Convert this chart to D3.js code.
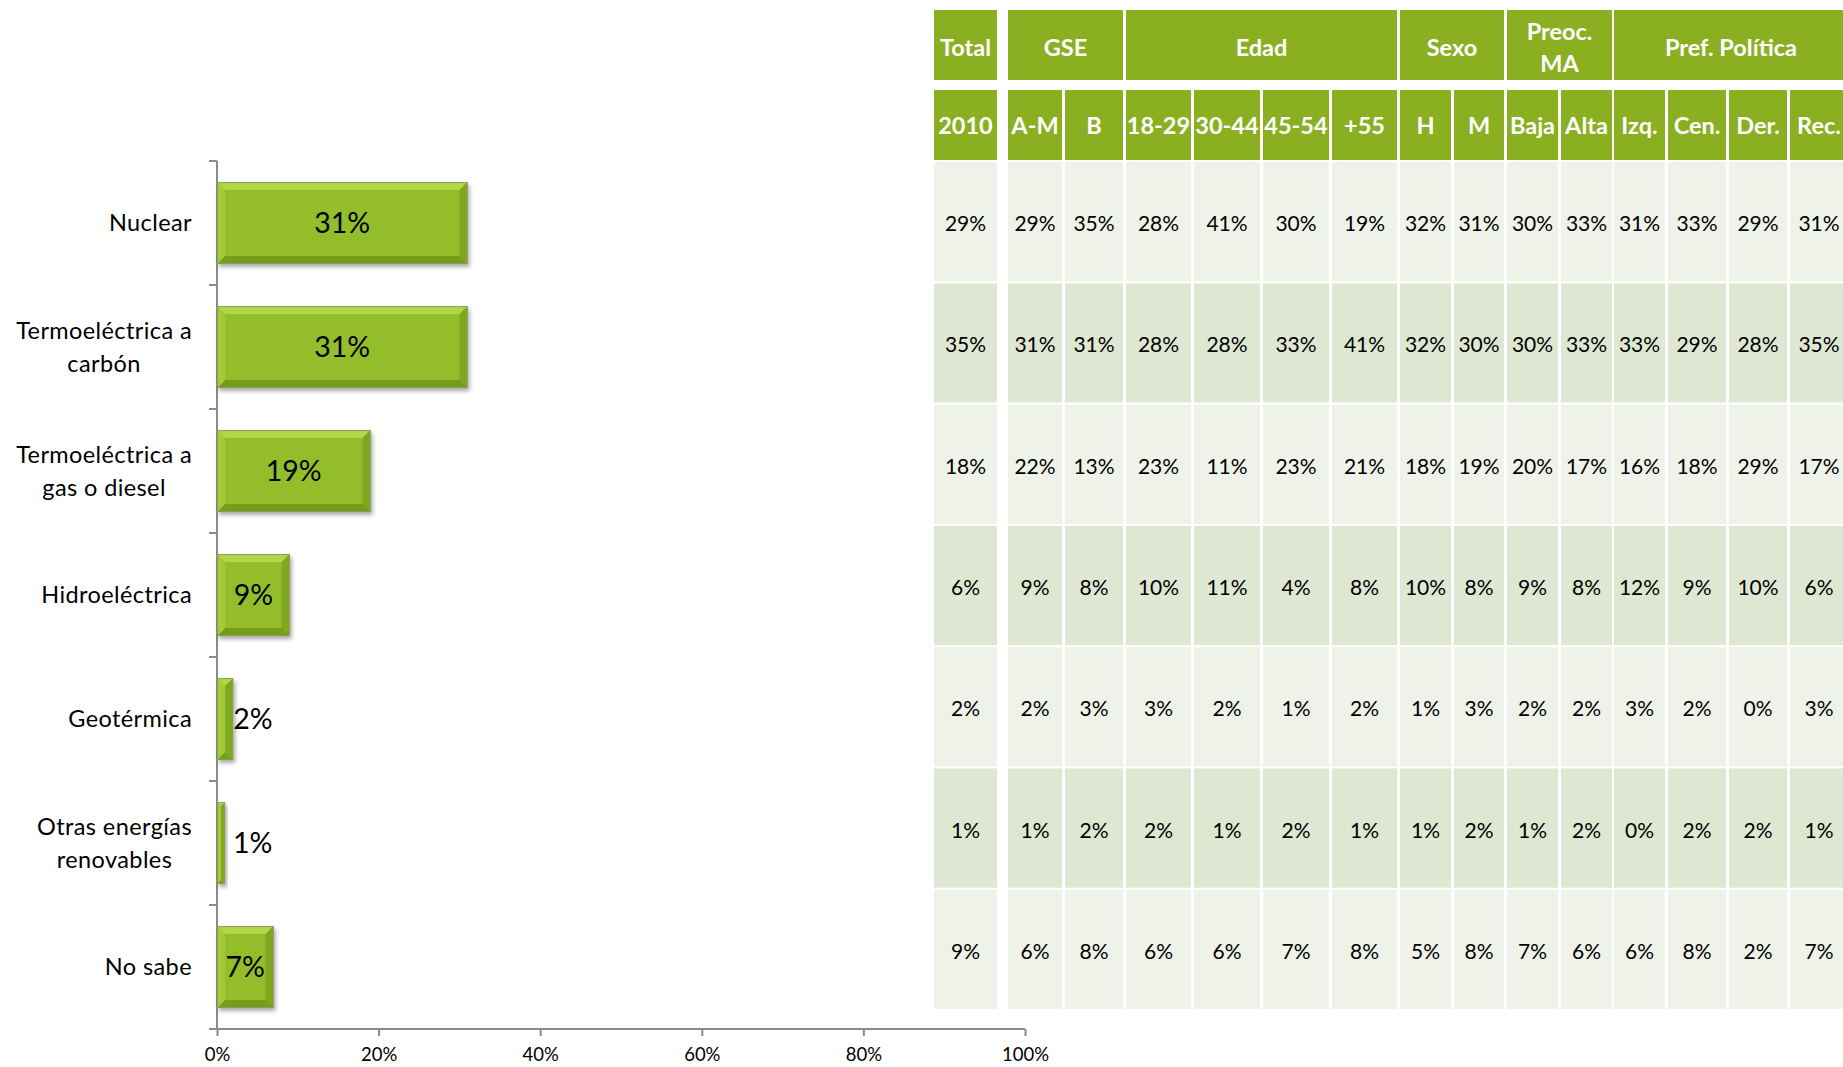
<!DOCTYPE html>
<html><head><meta charset="utf-8">
<script src="https://cdn.jsdelivr.net/npm/d3@7"></script>
<style>
body{margin:0;background:#fff}
svg{display:block}
text{font-family:Lato,'Open Sans',sans-serif}
</style>
</head><body>
<svg id="c" width="1843" height="1067"></svg>
<script>
// ---------- data ----------
const categories = ["Nuclear","Termoeléctrica a carbón","Termoeléctrica a gas o diesel","Hidroeléctrica","Geotérmica","Otras energías renovables","No sabe"];
const categoryLines = [["Nuclear"],["Termoeléctrica a","carbón"],["Termoeléctrica a","gas o diesel"],["Hidroeléctrica"],["Geotérmica"],["Otras energías","renovables"],["No sabe"]];
const values = [31,31,19,9,2,1,7];
const xTicks = [0,20,40,60,80,100];

const groupHeaders = [["Total"],["GSE"],["Edad"],["Sexo"],["Preoc.","MA"],["Pref. Política"]];
const groupSpans = [1,2,4,2,2,4];
const columns = ["2010","A-M","B","18-29","30-44","45-54","+55","H","M","Baja","Alta","Izq.","Cen.","Der.","Rec."];

const rowNuclear    = [29,29,35,28,41,30,19,32,31,30,33,31,33,29,31];
const rowCarbon     = [35,31,31,28,28,33,41,32,30,30,33,33,29,28,35];
const rowGas        = [18,22,13,23,11,23,21,18,19,20,17,16,18,29,17];
const rowHidro      = [6,9,8,10,11,4,8,10,8,9,8,12,9,10,6];
const rowGeo        = [2,2,3,3,2,1,2,1,3,2,2,3,2,0,3];
const rowOtras      = [1,1,2,2,1,2,1,1,2,1,2,0,2,2,1];
const rowNoSabe     = [9,6,8,6,6,7,8,5,8,7,6,6,8,2,7];
const tableRows = [rowNuclear,rowCarbon,rowGas,rowHidro,rowGeo,rowOtras,rowNoSabe];

// ---------- layout (not data) ----------
const colEdges = [[934,997],[1008,1062],[1065,1123],[1126,1191],[1194,1260],[1263,1329],[1332,1397],
  [1400,1451],[1454,1504],[1507,1558],[1561,1612],[1614,1665],[1668,1726],[1729,1787],[1790,1848]];
const GREEN = "#8ab022", LIGHT = "#eff2e9", DARK = "#dee7d2", AXIS = "#8a8a8a";

const svg = d3.select("#c");
const defs = svg.append("defs");
const f = defs.append("filter").attr("id","sh").attr("x","-20%").attr("y","-20%").attr("width","150%").attr("height","150%");
f.append("feDropShadow").attr("dx",2).attr("dy",3).attr("stdDeviation",2.2).attr("flood-color","#000").attr("flood-opacity",0.35);

// ---------- bar chart ----------
const x = d3.scaleLinear().domain([0,100]).range([217,1025]);
const y = d3.scaleBand().domain(categories).range([161,1029]).paddingInner(0.34).paddingOuter(0.17);
const step = y.step();

// axes
const axG = svg.append("g");
axG.append("line").attr("x1",x(0)).attr("x2",x(0)).attr("y1",y.range()[0]).attr("y2",y.range()[1]).attr("stroke",AXIS).attr("stroke-width",2);
const yTickPos = categories.map(c => y(c) - step*y.paddingInner()/2);
yTickPos.push(y.range()[1]);
axG.selectAll(".yt").data(yTickPos).join("line").attr("x1",x(0)-8).attr("x2",x(0)).attr("y1",d=>d).attr("y2",d=>d).attr("stroke",AXIS).attr("stroke-width",2);

const xAxis = d3.axisBottom(x).tickValues(xTicks).tickFormat(d=>d+"%").tickSize(7).tickSizeOuter(0);
const xg = svg.append("g").attr("transform",`translate(0,${y.range()[1]})`).call(xAxis);
xg.select(".domain").attr("stroke",AXIS).attr("stroke-width",2).attr("d",`M${x(0)-8},0H${x(100)}`);
xg.selectAll(".tick line").attr("stroke",AXIS).attr("stroke-width",2);
xg.selectAll(".tick text").attr("font-size",18.5).attr("fill","#000").attr("dy","1.2em").style("font-family","Lato,'Open Sans',sans-serif");

// category labels
const labG = svg.append("g");
categories.forEach((c,i) => {
  const lines = categoryLines[i];
  const cy = y(c) + y.bandwidth()/2;
  const g = labG.append("g");
  const lh = 33;
  const texts = lines.map((ln,j) => g.append("text").text(ln)
      .attr("font-size",23.5).attr("fill","#000").attr("letter-spacing","0.4px")
      .attr("y", cy + (j - (lines.length-1)/2)*lh).attr("dy","0.36em"));
  const maxW = d3.max(texts, t => t.node().getComputedTextLength());
  texts.forEach(t => t.attr("text-anchor","middle").attr("x", 192 - maxW/2));
});

// bars with bevel
const barG = svg.append("g");
values.forEach((v,i) => {
  const x0 = x(0), x1 = x(v), y0 = y(categories[i]), y1 = y0 + y.bandwidth();
  const w = x1 - x0;
  const b = Math.min(8, w/2);
  const g = barG.append("g");
  g.append("rect").attr("x",x0).attr("y",y0).attr("width",w).attr("height",y1-y0).attr("fill","#93bd2a").attr("filter","url(#sh)");
  const poly = (pts,fill) => g.append("polygon").attr("points",pts.map(p=>p.join(",")).join(" ")).attr("fill",fill);
  poly([[x0,y0],[x1,y0],[x1-b,y0+b],[x0+b,y0+b]],"#b2d84a");
  poly([[x0,y1],[x1,y1],[x1-b,y1-b],[x0+b,y1-b]],"#769d19");
  poly([[x0,y0],[x0+b,y0+b],[x0+b,y1-b],[x0,y1]],"#a2cb36");
  poly([[x1,y0],[x1-b,y0+b],[x1-b,y1-b],[x1,y1]],"#7fa71f");
  g.append("rect").attr("x",x0+0.5).attr("y",y0+0.5).attr("width",Math.max(0,w-1)).attr("height",y1-y0-1).attr("fill","none").attr("stroke","#8a9e60").attr("stroke-width",1);
  // label
  const t = g.append("text").text(v+"%").attr("font-size",28.5).attr("fill","#000")
    .attr("y",(y0+y1)/2).attr("dy","0.36em");
  const lw = t.node().getComputedTextLength();
  if (w >= lw*1.3) t.attr("x",(x0+x1)/2).attr("text-anchor","middle");
  else if (w >= lw) t.attr("x",x1).attr("text-anchor","end");
  else t.attr("x",Math.max(x1, x0+16)).attr("text-anchor","start");
});

// ---------- table ----------
const tG = svg.append("g");
// header row 1 (groups)
let ci = 0;
groupHeaders.forEach((h,gi) => {
  const a = colEdges[ci][0], bnd = colEdges[ci+groupSpans[gi]-1][1];
  ci += groupSpans[gi];
  tG.append("rect").attr("x",a).attr("y",10).attr("width",bnd-a).attr("height",70).attr("fill",GREEN);
  h.forEach((ln,j) => tG.append("text").text(ln).attr("x",(a+bnd)/2).attr("y",48 + (j-(h.length-1)/2)*32)
    .attr("dy","0.36em").attr("text-anchor","middle").attr("font-size",23.5).attr("font-weight","bold").attr("fill","#fff"));
});
// header row 2
columns.forEach((c,j) => {
  const [a,bnd] = colEdges[j];
  tG.append("rect").attr("x",a).attr("y",90).attr("width",bnd-a).attr("height",70).attr("fill",GREEN);
  tG.append("text").text(c).attr("x",(a+bnd)/2).attr("y",126).attr("dy","0.36em").attr("text-anchor","middle")
    .attr("font-size",23.5).attr("font-weight","bold").attr("fill","#fff");
});
// data rows
const rowY = d3.scaleBand().domain(d3.range(tableRows.length)).range([162,1007+2]).paddingInner(2/121).paddingOuter(0);
tableRows.forEach((row,r) => {
  const ry = rowY(r), rh = rowY.bandwidth();
  row.forEach((v,j) => {
    const [a,bnd] = colEdges[j];
    tG.append("rect").attr("x",a).attr("y",ry).attr("width",bnd-a).attr("height",rh).attr("fill", r%2===0 ? LIGHT : DARK);
    tG.append("text").text(v+"%").attr("x",(a+bnd)/2).attr("y",ry+rh/2+2).attr("dy","0.36em").attr("text-anchor","middle")
      .attr("font-size",21).attr("fill","#000");
  });
});
</script>
</body></html>
